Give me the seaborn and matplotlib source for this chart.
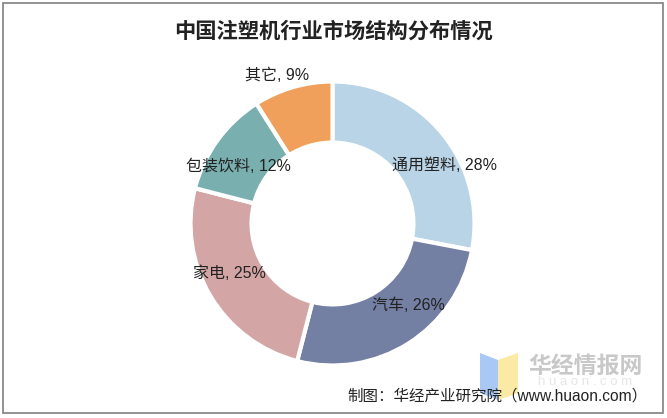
import matplotlib
matplotlib.use("Agg")
import matplotlib.pyplot as plt
from matplotlib.patches import Rectangle, Polygon
import numpy as np
import seaborn as sns

categories = ["通用塑料", "汽车", "家电", "包装饮料", "其它"]
shares = [28, 26, 25, 12, 9]
colors = ["#b9d4e6", "#737fa3", "#d4a5a5", "#7aafb0", "#f0a05a"]
title = "中国注塑机行业市场结构分布情况"
caption = "制图：华经产业研究院（www.huaon.com）"

# label placement (radius in units of outer radius, angle shift in degrees)
label_radius = [0.89, 0.785, 0.806, 0.774, 1.113]
label_angle_shift = [-12.2, 10.2, -4.7, 4.8, 4.4]

sns.set_theme(style="white")
plt.rcParams["font.family"] = ["Liberation Sans", "Noto Sans CJK SC", "DejaVu Sans"]

W, H = 667, 418
fig = plt.figure(figsize=(W / 100, H / 100), dpi=100)
fig.patch.set_facecolor("white")
ax = fig.add_axes([0, 0, 1, 1])

cx, cy, R = 332.5, 223.5, 142
wedges, _ = ax.pie(shares, colors=colors, startangle=90, counterclock=False,
                   radius=1.0,
                   wedgeprops=dict(width=0.43, edgecolor="white", linewidth=3))
ax.set_aspect("auto")
ax.set_xlim(-cx / R, (W - cx) / R)
ax.set_ylim(-(H - cy) / R, cy / R)
ax.axis("off")

total = sum(shares)
start = 90.0
for i, (cat, v) in enumerate(zip(categories, shares)):
    span = 360.0 * v / total
    mid = start - span / 2 + label_angle_shift[i]
    start -= span
    r = label_radius[i]
    x, y = r * np.cos(np.radians(mid)), r * np.sin(np.radians(mid))
    ax.text(x, y, f"{cat}, {v}%", ha="center", va="center", fontsize=11.5,
            color="#222222")

fig.text(334 / W, 1 - 31 / H, title, ha="center", va="center", fontsize=15.3,
         fontweight="bold", color="#222222",
         family=["Noto Sans CJK SC", "DejaVu Sans"])

# watermark logo
blue = Polygon([[480 / W, 1 - 353 / H], [498 / W, 1 - 360 / H],
                [498 / W, 1 - 400 / H], [480 / W, 1 - 393 / H]],
               closed=True, transform=fig.transFigure, facecolor="#a9c8f5",
               edgecolor="none")
yellow = Polygon([[498 / W, 1 - 360 / H], [518 / W, 1 - 353 / H],
                  [518 / W, 1 - 393 / H], [498 / W, 1 - 400 / H]],
                 closed=True, transform=fig.transFigure, facecolor="#fbe9a6",
                 edgecolor="none")
fig.patches.extend([blue, yellow])
fig.text(586 / W, 1 - 366 / H, "华经情报网", ha="center", va="center",
         fontsize=16.5, fontweight="bold", color="#c8c8c8",
         family=["Noto Sans CJK SC", "DejaVu Sans"])
fig.text(585 / W, 1 - 382 / H, "h u a o n . c o m", ha="center", va="center",
         fontsize=9.5, color="#e6e6e6")

fig.text(647 / W, 1 - 396 / H, caption, ha="right", va="center",
         fontsize=11.2, color="#222222")

border = Rectangle((3 / W, 5 / H), 660 / W, 410 / H,
                   transform=fig.transFigure, fill=False,
                   edgecolor="#808080", linewidth=1.2)
fig.patches.append(border)

fig.savefig("out.png", dpi=100)
